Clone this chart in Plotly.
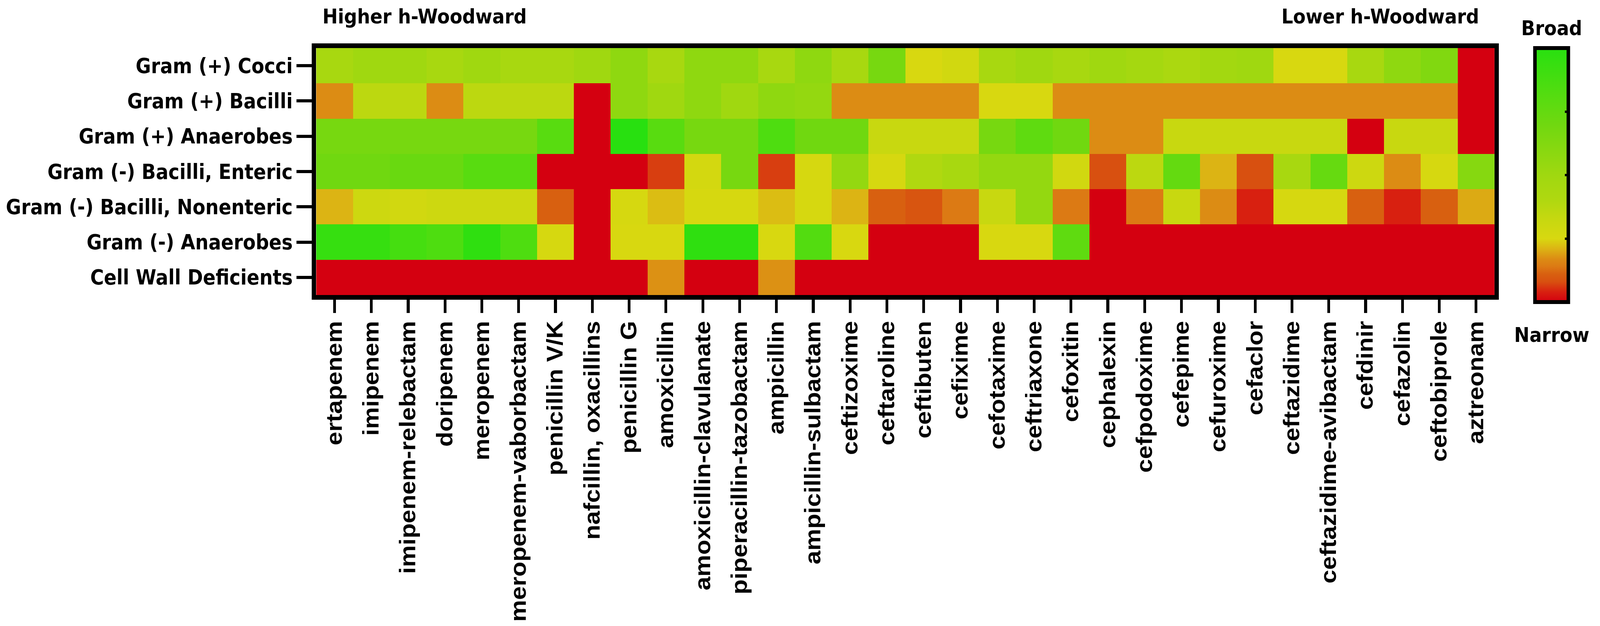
import plotly.graph_objects as go

# categories
organisms = [
    "Gram (+) Cocci",
    "Gram (+) Bacilli",
    "Gram (+) Anaerobes",
    "Gram (-) Bacilli, Enteric",
    "Gram (-) Bacilli, Nonenteric",
    "Gram (-) Anaerobes",
    "Cell Wall Deficients",
]

antibiotics = [
    "ertapenem", "imipenem", "imipenem-relebactam", "doripenem", "meropenem",
    "meropenem-vaborbactam", "penicillin V/K", "nafcillin, oxacillins", "penicillin G",
    "amoxicillin", "amoxicillin-clavulanate", "piperacillin-tazobactam", "ampicillin",
    "ampicillin-sulbactam", "ceftizoxime", "ceftaroline", "ceftibuten", "cefixime",
    "cefotaxime", "ceftriaxone", "cefoxitin", "cephalexin", "cefpodoxime", "cefepime",
    "cefuroxime", "cefaclor", "ceftazidime", "ceftazidime-avibactam", "cefdinir",
    "cefazolin", "ceftobiprole", "aztreonam",
]

# spectrum score per organism group (0 = narrow, 100 = broad)
gram_pos_cocci = [45, 50, 50, 45, 50, 45, 45, 50, 57, 45, 57, 57, 45, 57, 45, 67,
                  25, 28, 45, 50, 45, 50, 47, 43, 48, 50, 25, 25, 45, 57, 63, 0]
gram_pos_bacilli = [17, 36, 36, 17, 36, 36, 36, 0, 57, 50, 57, 50, 57, 55, 17, 17,
                    17, 17, 25, 25, 17, 17, 17, 17, 17, 17, 17, 17, 17, 17, 17, 0]
gram_pos_anaerobes = [67, 67, 67, 67, 67, 67, 80, 0, 100, 80, 67, 67, 84, 70, 70, 32,
                      32, 32, 67, 77, 70, 17, 17, 32, 32, 32, 32, 32, 0, 32, 32, 0]
gram_neg_enteric = [70, 70, 73, 73, 80, 80, 0, 0, 0, 6.5, 27, 67, 6.5, 26, 55, 26,
                    40, 45, 55, 55, 28, 8, 36, 75, 21, 8, 45, 74, 30, 17, 26, 61]
gram_neg_nonenteric = [21, 30, 28, 30, 30, 30, 11, 0, 26, 22, 26, 26, 22, 26, 21, 11,
                       9, 14, 32, 55, 14, 0, 14, 32, 17, 4, 26, 26, 11, 4, 11, 20]
gram_neg_anaerobes = [94, 94, 88, 84, 97, 84, 26, 0, 25, 25, 97, 97, 25, 82, 25, 0,
                      0, 0, 25, 25, 77, 0, 0, 0, 0, 0, 0, 0, 0, 0, 0, 0]
cell_wall_deficient = [0, 0, 0, 0, 0, 0, 0, 0, 0, 17.5, 0, 0, 17.5, 0, 0, 0,
                       0, 0, 0, 0, 0, 0, 0, 0, 0, 0, 0, 0, 0, 0, 0, 0]

colorbar_ticks = [25, 50, 75]

z = [gram_pos_cocci, gram_pos_bacilli, gram_pos_anaerobes, gram_neg_enteric,
     gram_neg_nonenteric, gram_neg_anaerobes, cell_wall_deficient]

W, H = 4550, 1602

# red -> orange -> yellow -> green
colorscale = [
    [0.00, "#d40010"],
    [0.04, "#d82010"],
    [0.08, "#d85010"],
    [0.11, "#d86010"],
    [0.14, "#dc7a14"],
    [0.17, "#dc8c14"],
    [0.21, "#dcb414"],
    [0.25, "#d8d810"],
    [0.32, "#c8d810"],
    [0.40, "#b0d810"],
    [0.50, "#a0d810"],
    [0.60, "#88d810"],
    [0.70, "#70d810"],
    [0.80, "#58dc10"],
    [1.00, "#28e010"],
]

# colorbar geometry (pixels)
cb_left, cb_top, cb_thick, cb_len = 4365, 123, 95, 650

fig = go.Figure(go.Heatmap(
    z=z,
    x=antibiotics,
    y=organisms,
    zmin=0,
    zmax=100,
    colorscale=colorscale,
    hoverongaps=False,
    colorbar=dict(
        x=cb_left / W, xanchor="left", xpad=0,
        y=1 - cb_top / H, yanchor="top", ypad=0,
        thickness=cb_thick, thicknessmode="pixels",
        len=cb_len, lenmode="pixels",
        outlinewidth=10, outlinecolor="black",
        tickmode="array", tickvals=colorbar_ticks,
        ticks="inside", ticklen=14, tickwidth=6, tickcolor="black",
        showticklabels=False,
    ),
))

# mirrored ticks on the left edge of the colour bar
cb_bottom = 1 - (cb_top + cb_len) / H
shapes = []
for t in colorbar_ticks:
    yy = cb_bottom + (t / 100) * cb_len / H
    shapes.append(dict(type="line", xref="paper", yref="paper",
                       x0=cb_left / W, x1=(cb_left + 14) / W, y0=yy, y1=yy,
                       line=dict(color="black", width=6)))

label_font = dict(family="DejaVu Sans", size=52, color="black", weight="bold")

fig.update_layout(
    width=W,
    height=H,
    margin=dict(l=0, r=0, t=0, b=0),
    paper_bgcolor="white",
    plot_bgcolor="white",
    shapes=shapes,
    xaxis=dict(
        domain=[899 / W, 4250 / W],
        automargin=False,
        tickangle=-90,
        tickfont=dict(family="Liberation Sans", size=63, color="black", weight="bold"),
        ticks="outside", ticklen=34, tickwidth=8, tickcolor="black",
        ticklabelstandoff=-5,
        showline=True, linewidth=12, linecolor="black", mirror=True,
        showgrid=False, zeroline=False,
    ),
    yaxis=dict(
        domain=[1 - 755 / H, 1 - 123 / H],
        automargin=False,
        autorange="reversed",
        tickfont=dict(family="DejaVu Sans", size=53, color="black", weight="bold"),
        ticks="outside", ticklen=44, tickwidth=8, tickcolor="black",
        showline=True, linewidth=12, linecolor="black", mirror=True,
        showgrid=False, zeroline=False,
    ),
    annotations=[
        dict(text="Higher h-Woodward", xref="paper", yref="paper",
             x=915 / W, y=1 - 42 / H, xanchor="left", yanchor="middle",
             showarrow=False, font=label_font),
        dict(text="Lower h-Woodward", xref="paper", yref="paper",
             x=4208 / W, y=1 - 42 / H, xanchor="right", yanchor="middle",
             showarrow=False, font=label_font),
        dict(text="Broad", xref="paper", yref="paper",
             x=(cb_left + cb_thick / 2) / W, y=1 - 72 / H, xanchor="center", yanchor="middle",
             showarrow=False, font=label_font),
        dict(text="Narrow", xref="paper", yref="paper",
             x=(cb_left + cb_thick / 2) / W, y=1 - 857 / H, xanchor="center", yanchor="middle",
             showarrow=False, font=label_font),
    ],
)

# the browser window may be narrower than the figure: squeeze it to fit
post = (
    "var gd=document.getElementById('{plot_id}');"
    "document.body.style.margin='0';document.body.style.overflow='hidden';"
    "var sx=Math.min(1,window.innerWidth/%d),sy=Math.min(1,window.innerHeight/%d);"
    "gd.style.transformOrigin='0 0';"
    "gd.style.transform='scale('+sx+','+sy+')';" % (W, H)
)

fig.write_html("out.html", config={"displayModeBar": False}, post_script=post)
